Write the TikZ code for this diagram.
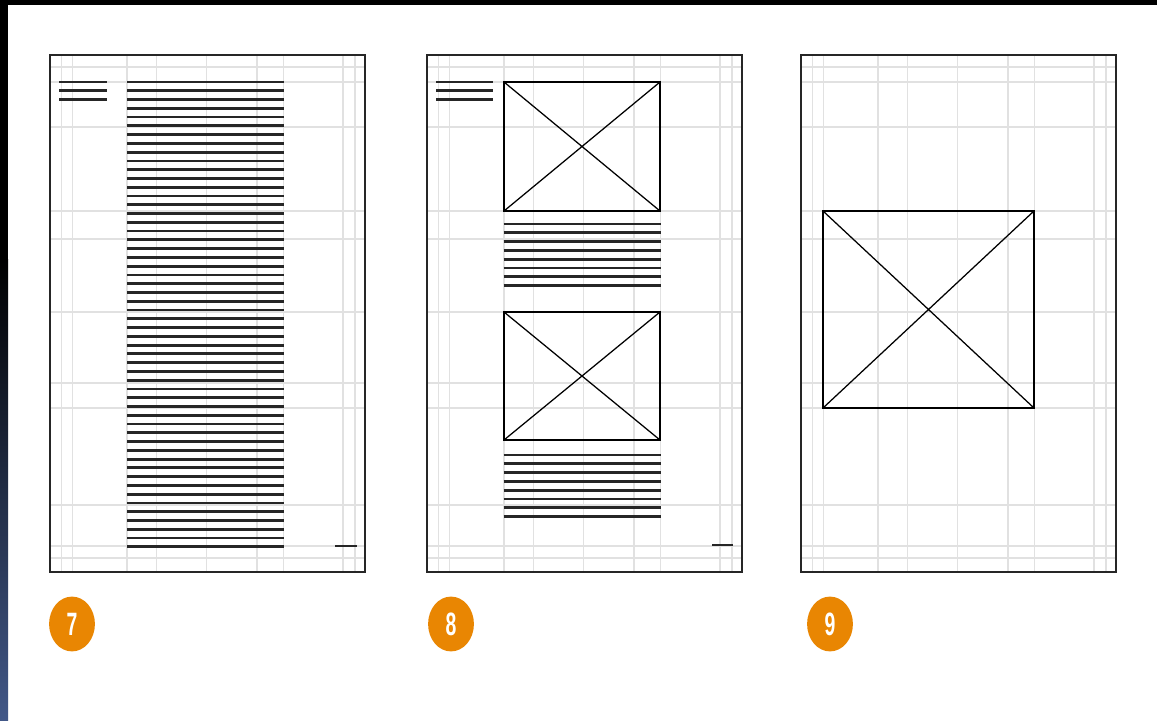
\documentclass[tikz,border=0pt]{standalone}
\usepackage{fontspec}
\usepackage{graphicx}
\setsansfont{Liberation Sans}
\usetikzlibrary{shapes.geometric, positioning}

\definecolor{badgeorange}{RGB}{233,134,2}
\definecolor{stripblue}{RGB}{66,88,136}
\definecolor{gridgray}{RGB}{225,225,225}

\tikzset{
  gridline/.style={gridgray, line width=1.1pt},
  frameline/.style={black!85, line width=1.6pt},
  textline/.style={black!85, line width=2pt},
  picbox/.style={black, line width=1.4pt},
  crossline/.style={black, line width=0.9pt},
  badge/.style={ellipse, fill=badgeorange, minimum width=32.6pt, minimum height=39pt, inner sep=0pt, text=white, font=\sffamily\bfseries\fontsize{23}{23}\selectfont}
}

% light layout grid of one page
\newcommand\pagegrid{%
  \foreach \gx in {11.5,22.5,77,106.5,156.5,207,233.5,293,305}
    \draw[gridline] (\gx,0) -- (\gx,517);
  \foreach \gy in {12,27,72,156,184,257,328,353,450,491,503}
    \draw[gridline] (0,\gy) -- (315,\gy);
  \draw[frameline] (0,0) rectangle (315,517);
}

\begin{document}
\begin{tikzpicture}[x=0.025cm, y=-0.025cm]
    \useasboundingbox (0,0) rectangle (1157,721);
    \fill[white] (0,0) rectangle (1157,721);

    % dark edges
    \fill[black] (0,0) rectangle (1157,5);
    \fill[black] (0,0) rectangle (8,260);
    \shade[top color=black, bottom color=stripblue] (0,260) rectangle (8,721);

    % page 7: text only
    \begin{scope}[shift={(50,55)}]
        \pagegrid
        \foreach \k in {0,1,2}
            \draw[textline] (9,{27+8.8*\k}) -- (57,{27+8.8*\k});
        \foreach \k in {0,...,53}
            \draw[textline] (77,{27+8.77*\k}) -- (234,{27+8.77*\k});
        \draw[textline] (285,491) -- (307,491);
    \end{scope}

    % page 8: two pictures with text
    \begin{scope}[shift={(427,55)}]
        \pagegrid
        \foreach \k in {0,1,2}
            \draw[textline] (9,{27+8.8*\k}) -- (66,{27+8.8*\k});
        \draw[picbox] (77,27) rectangle (233,156);
        \draw[crossline] (77,27) -- (233,156) (77,156) -- (233,27);
        \foreach \k in {0,...,7}
            \draw[textline] (76.5,{169+8.8*\k}) -- (234,{169+8.8*\k});
        \draw[picbox] (77,257) rectangle (233,385);
        \draw[crossline] (77,257) -- (233,385) (77,385) -- (233,257);
        \foreach \k in {0,...,7}
            \draw[textline] (76.5,{400+8.8*\k}) -- (234,{400+8.8*\k});
        \draw[textline] (285,490) -- (306,490);
    \end{scope}

    % page 9: one large picture
    \begin{scope}[shift={(801,55)}]
        \pagegrid
        \draw[picbox] (22,156) rectangle (233,353);
        \draw[crossline] (22,156) -- (233,353) (22,353) -- (233,156);
    \end{scope}

    % numbered badges
    \node[badge] (n7) at (72,624) {\scalebox{0.6}[1]{7}};
    \node[badge] (n8) at (451,624) {\scalebox{0.6}[1]{8}};
    \node[badge] (n9) at (830,624) {\scalebox{0.6}[1]{9}};
\end{tikzpicture}
\end{document}
